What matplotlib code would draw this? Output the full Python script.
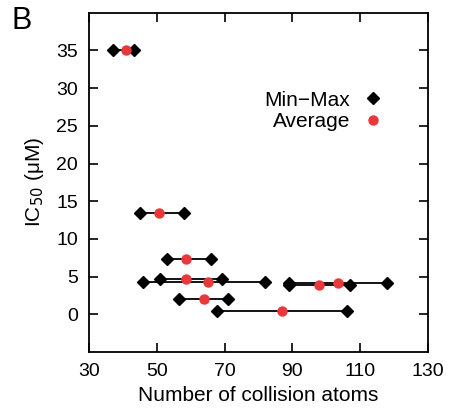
import matplotlib
matplotlib.use("Agg")
import matplotlib.pyplot as plt
from matplotlib.lines import Line2D

plt.rcParams['font.family'] = ['Liberation Sans', 'DejaVu Sans']

# data: each row = one compound range
x_min = [37.0, 45.0, 53.0, 51.0, 46.0, 89.0, 89.0, 56.7, 67.9]
x_max = [43.3, 58.1, 66.1, 69.2, 82.0, 107.1, 117.9, 71.0, 106.1]
x_avg = [40.8, 50.6, 58.7, 58.7, 65.1, 98.0, 103.5, 63.9, 87.1]
ic50 = [35.0, 13.4, 7.35, 4.65, 4.3, 3.85, 4.15, 2.0, 0.45]

x_ticks = [30, 50, 70, 90, 110, 130]
y_ticks = [0, 5, 10, 15, 20, 25, 30, 35]

fig = plt.figure(figsize=(4.49, 4.08), dpi=100)
ax = fig.add_axes([0.198, 0.137, 0.755, 0.832])

for lo, hi, y in zip(x_min, x_max, ic50):
    ax.plot([lo, hi], [y, y], color='black', lw=1.3, zorder=2)
ax.plot(x_min, ic50, ls='none', marker='D', color='black', ms=6.5, zorder=3)
ax.plot(x_max, ic50, ls='none', marker='D', color='black', ms=6.5, zorder=3)
ax.plot(x_avg, ic50, ls='none', marker='o', color='#e8383a', ms=7.5, mec='none', zorder=4)

ax.set_xlim(30, 130)
ax.set_ylim(-5, 40)
ax.set_xticks(x_ticks)
ax.set_yticks(y_ticks)
ax.tick_params(direction='in', length=6.5, width=1.2, top=True, right=True,
               labelsize=14, pad=8)
for s in ax.spines.values():
    s.set_linewidth(1.3)
ax.set_xlabel('Number of collision atoms', fontsize=15, labelpad=4)
ax.set_ylabel(r'IC$_{50}$ ($\mathregular{\mu}$M)', fontsize=15, labelpad=7)

handles = [Line2D([], [], ls='none', marker='D', color='black', ms=6.5),
           Line2D([], [], ls='none', marker='o', color='#e8383a', mec='none', ms=7.5)]
leg = ax.legend(handles, ['Min\u2212Max', 'Average'], loc='upper right',
                bbox_to_anchor=(0.87, 0.77), frameon=False, markerfirst=False,
                fontsize=15, handletextpad=0.6, labelspacing=0.1, handlelength=1.0,
                borderpad=0, borderaxespad=0)
for t in leg.get_texts():
    t.set_ha('right')
leg._legend_box.align = 'right'

fig.text(0.025, 0.93, 'B', fontsize=22)

fig.savefig('out.png', dpi=100)
